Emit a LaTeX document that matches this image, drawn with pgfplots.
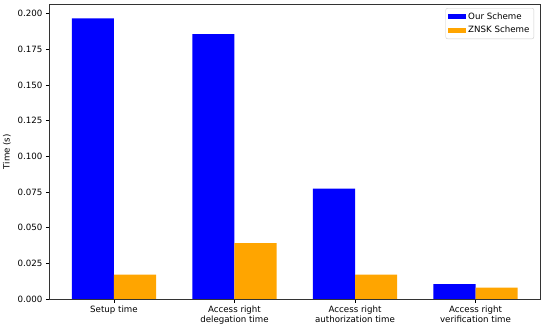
\documentclass[border=0pt]{standalone}
\usepackage{pgfplots}
\pgfplotsset{compat=1.18}
\usepackage{fontspec}
\setmainfont{DejaVu Sans}
\definecolor{mplorange}{RGB}{255,165,0}
\begin{document}
\begin{tikzpicture}
\begin{axis}[
  at={(0,0)}, anchor=south west,
  scale only axis, width=490.5bp, height=294.5bp,
  xmin=-0.535, xmax=3.535, ymin=0, ymax=0.2063,
  ybar, bar width=0.35,
  xtick={0,1,2,3},
  xticklabels={Setup time,{Access right\\delegation time},{Access right\\authorization time},{Access right\\verification time}},
  xticklabel style={align=center, font=\fontsize{8.7}{10.2}\selectfont},
  ytick={0,0.025,0.05,0.075,0.1,0.125,0.15,0.175,0.2},
  yticklabel style={/pgf/number format/.cd, fixed, fixed zerofill, precision=3, assume math mode=true},
  ticklabel style={font=\fontsize{8.7}{10.2}\selectfont},
  tick align=outside, tick pos=left,
  major tick length=3.5bp,
  tick style={black, line width=0.6bp},
  axis line style={line width=0.6bp, black!80},
  ylabel={Time (s)},
  ylabel style={font=\fontsize{8.7}{10.2}\selectfont},
  legend style={at={(0.988,0.988)}, anchor=north east, draw=black!20, rounded corners=2bp,
    font=\fontsize{8.7}{10.2}\selectfont, inner sep=2.5bp, row sep=1.5bp},
  legend cell align=left,
  legend image code/.code={\fill[#1, sharp corners] (0bp,-2.6bp) rectangle (18bp,2.6bp);},
]
\addplot[fill=blue, draw=none, bar shift=-0.175] coordinates {(0,0.1965) (1,0.1855) (2,0.0773) (3,0.0105)};
\addplot[fill=mplorange, draw=none, bar shift=0.175] coordinates {(0,0.0170) (1,0.0392) (2,0.0170) (3,0.0079)};
\legend{Our Scheme, ZNSK Scheme}
\end{axis}
\pgfresetboundingbox
\path[use as bounding box] (-49.5bp,-31bp) rectangle (500.5bp,299bp);
\end{tikzpicture}
\end{document}
